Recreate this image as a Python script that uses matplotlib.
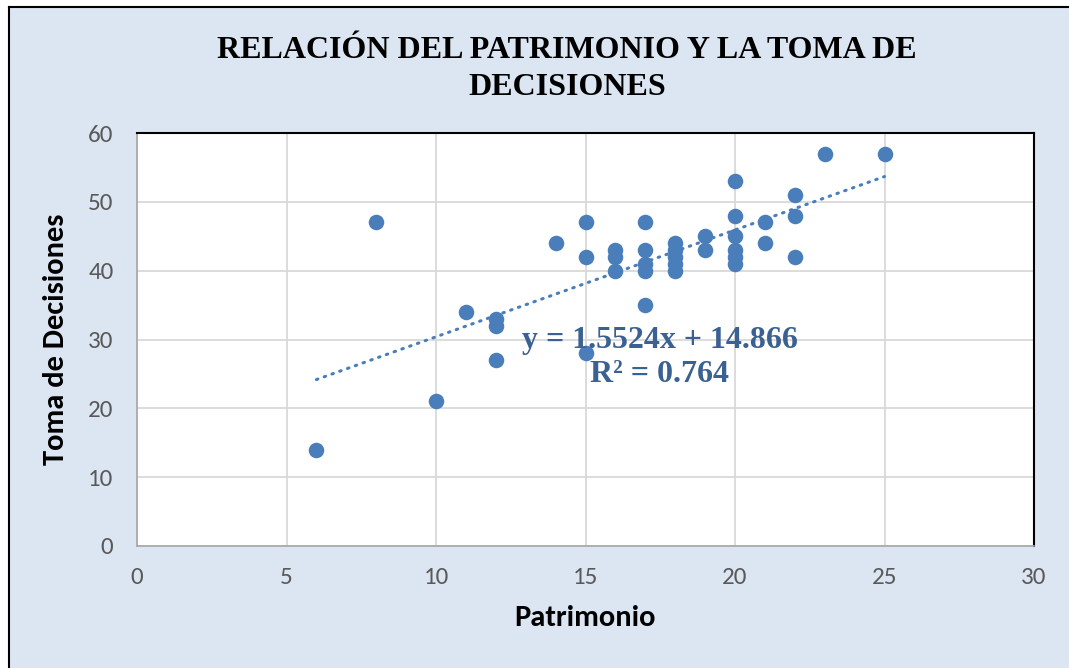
import matplotlib.pyplot as plt
import numpy as np

# Données : patrimoine (x) et prise de décisions (y)
patrimonio = [6, 8, 10, 11, 12, 12, 12, 14, 15, 15, 15,
              16, 16, 16, 17, 17, 17, 17, 17,
              18, 18, 18, 18, 18, 19, 19,
              20, 20, 20, 20, 20, 20, 21, 21,
              22, 22, 22, 23, 25]
decisiones = [14, 47, 21, 34, 33, 32, 27, 44, 47, 42, 28,
              43, 42, 40, 47, 43, 41, 40, 35,
              44, 43, 42, 41, 40, 45, 43,
              53, 48, 45, 43, 42, 41, 47, 44,
              51, 48, 42, 57, 57]

# Droite de tendance affichée
pente = 1.5524
ordonnee = 14.866
r2 = 0.764

fond = '#dce6f2'
bleu = '#4a7ebb'
texte_eq = '#3b6192'
police_axes = ['Carlito', 'Liberation Sans Narrow', 'Open Sans', 'DejaVu Sans']

fig = plt.figure(figsize=(10.69, 6.68), dpi=100)
fig.patch.set_facecolor(fond)

# marge blanche à gauche et en haut, puis bordure noire
fig.patches.append(plt.Rectangle((0, 0), 9 / 1069, 1, transform=fig.transFigure,
                                 facecolor='white', edgecolor='none', zorder=-10))
fig.patches.append(plt.Rectangle((0, 1 - 7 / 668), 1, 7 / 668, transform=fig.transFigure,
                                 facecolor='white', edgecolor='none', zorder=-10))
fig.lines.append(plt.Line2D([9 / 1069, 9 / 1069], [0, 1 - 7 / 668], transform=fig.transFigure,
                            color='black', lw=1.5))
fig.lines.append(plt.Line2D([9 / 1069, 1], [1 - 7 / 668, 1 - 7 / 668], transform=fig.transFigure,
                            color='black', lw=1.5))

ax = fig.add_axes([137 / 1069, 1 - 546 / 668, (1034 - 137) / 1069, (546 - 133) / 668])
ax.set_facecolor('white')
ax.set_xlim(0, 30)
ax.set_ylim(0, 60)
ax.set_xticks(np.arange(0, 31, 5))
ax.set_yticks(np.arange(0, 61, 10))
ax.grid(True, color='#d9d9d9', lw=1.3)
ax.set_axisbelow(True)
for cote in ['left', 'bottom']:
    ax.spines[cote].set_color('#a6a6a6')
    ax.spines[cote].set_linewidth(1.2)
for cote in ['top', 'right']:
    ax.spines[cote].set_color('black')
    ax.spines[cote].set_linewidth(1.5)
ax.tick_params(length=0, labelsize=18, labelcolor='#595959')
for lab in ax.get_xticklabels() + ax.get_yticklabels():
    lab.set_family(police_axes)
ax.tick_params(axis='x', pad=15)
ax.tick_params(axis='y', pad=17)

ax.scatter(patrimonio, decisiones, s=125, color=bleu, zorder=3, linewidths=0)

xt = np.array([min(patrimonio), max(patrimonio)])
ax.plot(xt, pente * xt + ordonnee, color=bleu, lw=2.2, linestyle=(0, (0.5, 2.2)),
        dash_capstyle='round', zorder=2)

ax.text(17.49, 27.4, 'y = %.4fx + %.3f\nR² = %.3f' % (pente, ordonnee, r2), ha='center', va='center',
        fontsize=23, fontweight='bold', family='Liberation Serif', color=texte_eq,
        linespacing=1.25, zorder=4)

ax.set_xlabel('Patrimonio', fontsize=22, fontweight='bold', family=police_axes, labelpad=12)
ax.set_ylabel('Toma de Decisiones', fontsize=22, fontweight='bold', family=police_axes, labelpad=14)

fig.text(567 / 1069, 1 - 69 / 668, 'RELACIÓN DEL PATRIMONIO Y LA TOMA DE\nDECISIONES',
         ha='center', va='center', fontsize=23, fontweight='bold', family='Liberation Serif',
         linespacing=1.32)

fig.savefig('out.png', dpi=100)
